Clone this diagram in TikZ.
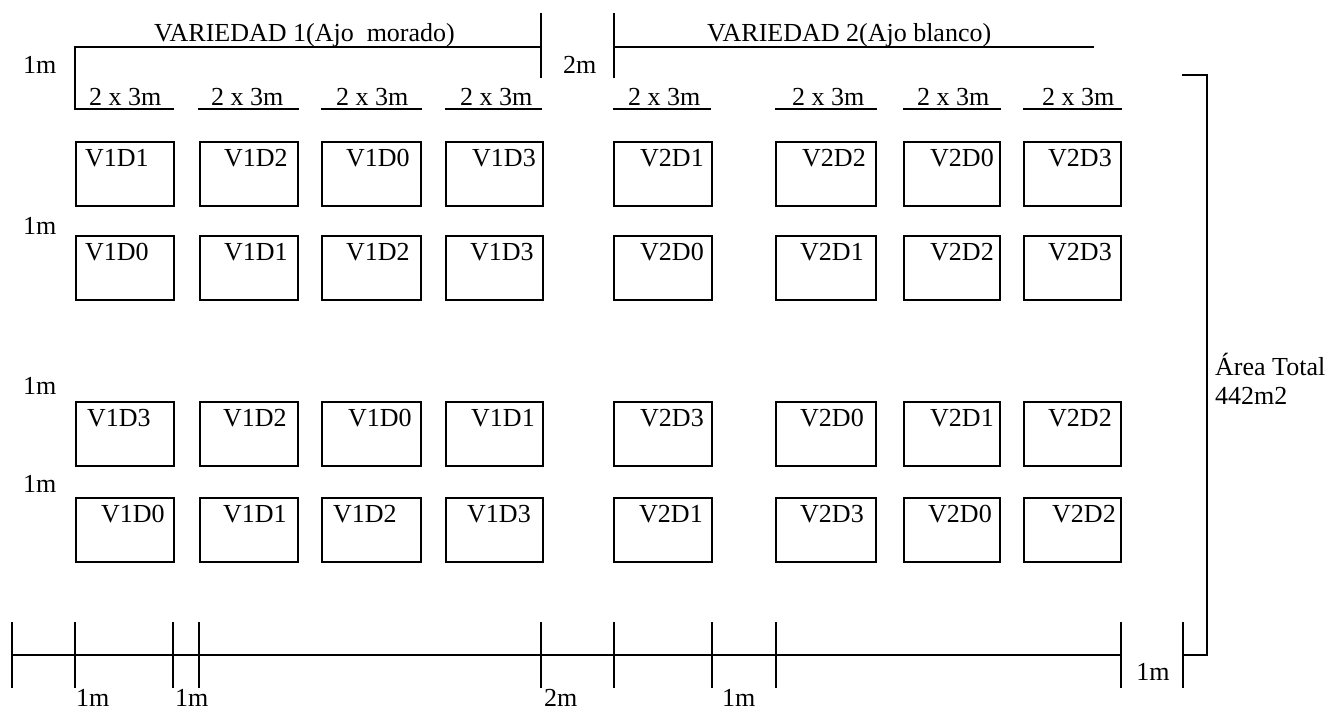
\documentclass[tikz,border=0pt]{standalone}
\usepackage{fontspec}
\setmainfont{Liberation Serif}
\tikzset{
  ln/.style={line width=2pt, line cap=rect},
  bx/.style={draw, line width=2.2pt},
  lbl/.style={anchor=base west, inner sep=0pt, font=\fontsize{26}{30}\selectfont},
  clbl/.style={anchor=base, inner sep=0pt, font=\fontsize{26}{30}\selectfont}
}
% plot: x-left, x-right, y-top, x of label, label
\newcommand\parcela[5]{%
  \draw[bx] (#1,#3) rectangle (#2,#3+64);
  \node[lbl] at (#4,#3+24) {#5};}
\begin{document}
\begin{tikzpicture}[x=1pt,y=-1pt]
\useasboundingbox (0,0) rectangle (1333,713);

% headings of the two varieties
\node[lbl] (v1) at (154,41) {VARIEDAD 1(Ajo\ \ morado)};
\node[lbl] (v2) at (707,41) {VARIEDAD 2(Ajo blanco)};
\draw[ln] (75,109) -- (75,47) -- (541,47);
\draw[ln] (541,14) -- (541,77);
\draw[ln] (614,14) -- (614,77);
\draw[ln] (614,47) -- (1093,47);
\node[lbl] (m1) at (23,73) {1m};
\node[lbl] (m2) at (563,73) {2m};

% plot widths
\foreach \a/\b/\t in {75/173/89, 199/298/211, 322/421/336, 446/541/460,
                      614/710/628, 776/876/792, 904/1000/917, 1024/1121/1042}{
  \draw[ln] (\a,109) -- (\b,109);
  \node[lbl] at (\t,105) {2 x 3m};
}

% plots, row 1
\parcela{76}{174}{142}{85}{V1D1}
\parcela{200}{298}{142}{224}{V1D2}
\parcela{322}{421}{142}{346}{V1D0}
\parcela{446}{543}{142}{472}{V1D3}
\parcela{614}{712}{142}{640}{V2D1}
\parcela{776}{876}{142}{802}{V2D2}
\parcela{904}{1000}{142}{930}{V2D0}
\parcela{1024}{1121}{142}{1048}{V2D3}
% row 2
\parcela{76}{174}{236}{85}{V1D0}
\parcela{200}{298}{236}{224}{V1D1}
\parcela{322}{421}{236}{346}{V1D2}
\parcela{446}{543}{236}{470}{V1D3}
\parcela{614}{712}{236}{640}{V2D0}
\parcela{776}{876}{236}{800}{V2D1}
\parcela{904}{1000}{236}{930}{V2D2}
\parcela{1024}{1121}{236}{1048}{V2D3}
% row 3
\parcela{76}{174}{402}{87}{V1D3}
\parcela{200}{298}{402}{223}{V1D2}
\parcela{322}{421}{402}{348}{V1D0}
\parcela{446}{543}{402}{471}{V1D1}
\parcela{614}{712}{402}{640}{V2D3}
\parcela{776}{876}{402}{800}{V2D0}
\parcela{904}{1000}{402}{930}{V2D1}
\parcela{1024}{1121}{402}{1048}{V2D2}
% row 4
\parcela{76}{174}{498}{101}{V1D0}
\parcela{200}{298}{498}{223}{V1D1}
\parcela{322}{421}{498}{333}{V1D2}
\parcela{446}{543}{498}{467}{V1D3}
\parcela{614}{712}{498}{639}{V2D1}
\parcela{776}{876}{498}{800}{V2D3}
\parcela{904}{1000}{498}{928}{V2D0}
\parcela{1024}{1121}{498}{1052}{V2D2}

% row spacings
\node[lbl] (m3) at (23,234) {1m};
\node[lbl] (m4) at (23,394) {1m};
\node[lbl] (m5) at (23,492) {1m};

% bottom dimension line
\draw[ln] (12,655) -- (1121,655);
\foreach \x in {12,75,173,199,541,614,712,776,1121,1183}
  \draw[ln] (\x,623) -- (\x,687);
\node[lbl] (b1) at (76,706) {1m};
\node[lbl] (b2) at (175,706) {1m};
\node[lbl] (b3) at (544,706) {2m};
\node[lbl] (b4) at (722,706) {1m};
\node[clbl] (b5) at (1153,680) {1m};

% total area bracket
\draw[ln] (1183,655) -- (1207,655) -- (1207,75) -- (1183,75);
\node[lbl] (at1) at (1215,375) {Área Total};
\node[lbl] (at2) at (1215,404) {442m2};
\end{tikzpicture}
\end{document}
